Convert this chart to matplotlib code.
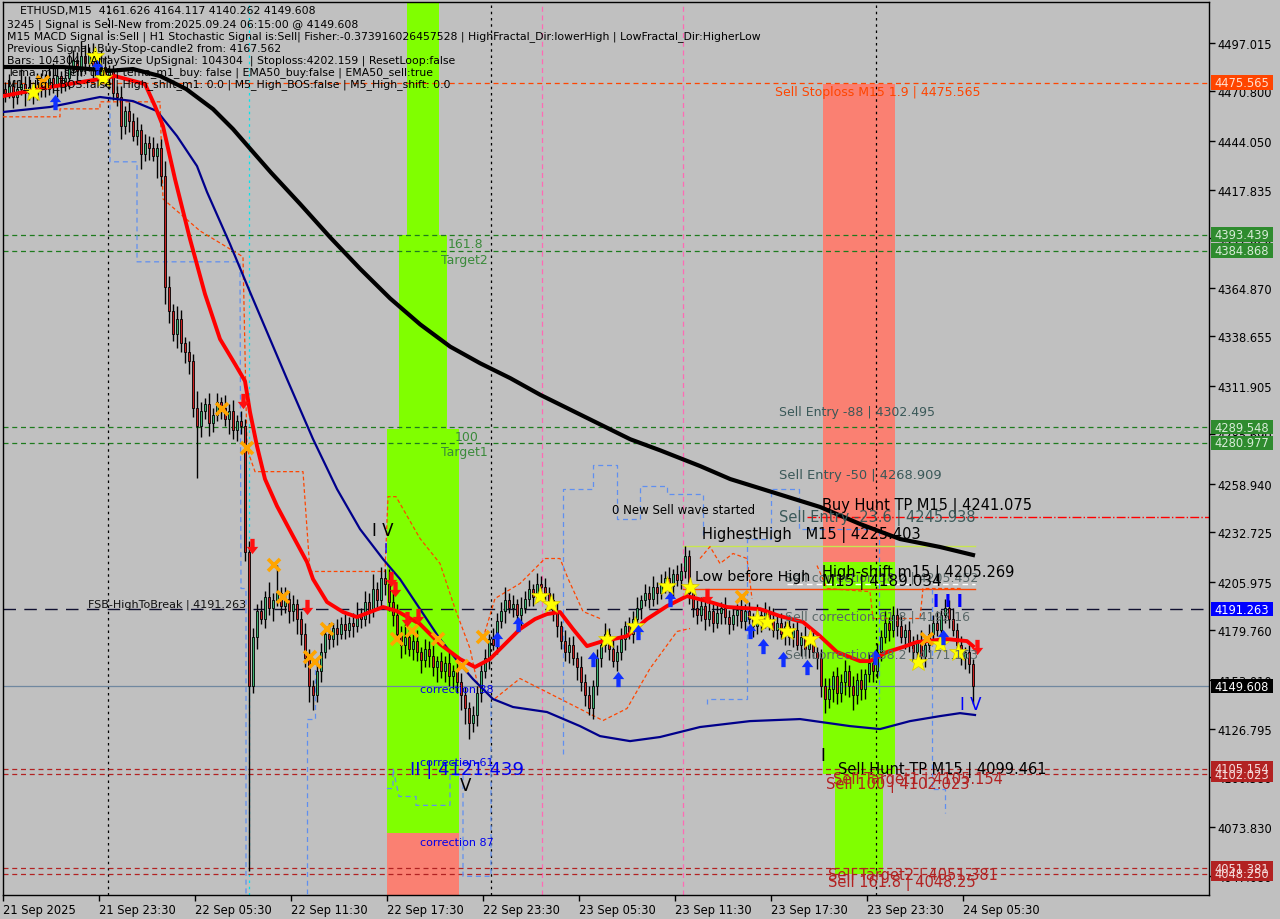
import matplotlib
matplotlib.use("Agg")
import matplotlib.pyplot as plt
import matplotlib.transforms as mtransforms
from matplotlib.patches import Rectangle
from matplotlib.path import Path
import numpy as np

plt.rcParams['font.family'] = ['DejaVu Sans']

# ---- candle data (ETHUSD M15) ----
close = [
    # 21 Sep evening
    4470, 4474, 4468, 4472, 4475, 4470, 4473, 4469, 4474,
    4476, 4472, 4478, 4475, 4479, 4474, 4478,
    4484, 4488, 4482, 4490, 4486, 4492, 4485,
    4480, 4484, 4478, 4482,
    # drop into 22 Sep
    4470, 4468, 4452, 4460, 4455, 4447, 4450, 4437, 4443, 4440,
    4436, 4440, 4425, 4365, 4352, 4340, 4348, 4335, 4330, 4325,
    4300, 4290, 4298, 4302, 4292, 4296, 4303, 4300, 4294, 4298,
    4288, 4293, 4290, 4222, 4150,
    4176, 4190, 4186, 4198, 4192, 4196, 4200, 4193, 4197, 4190,
    4194, 4186, 4178, 4165, 4150, 4145, 4158, 4168, 4178, 4175,
    4181, 4178, 4183, 4180, 4184, 4182, 4188, 4186, 4195, 4190,
    4202, 4196, 4208, 4205,
    4195, 4188, 4178, 4172, 4176, 4170, 4174, 4168, 4164, 4170,
    4166, 4160, 4163, 4158, 4162, 4155, 4158, 4152, 4145, 4138,
    4130, 4134, 4146,
    # 23 Sep
    4158, 4165, 4175, 4172, 4185, 4190, 4196, 4192, 4194, 4188,
    4192, 4197, 4202, 4198, 4205, 4203, 4200, 4196,
    4190, 4182, 4174, 4168, 4172, 4165, 4160, 4152, 4145, 4138, 4150, 4165,
    4172, 4178, 4170, 4163, 4168, 4175, 4182, 4178, 4186, 4192,
    4196, 4200, 4197, 4203, 4200, 4205, 4208, 4204, 4210, 4207,
    4212, 4220, 4200, 4192,
    4188, 4193, 4186, 4190, 4184, 4189, 4192, 4187, 4183, 4188,
    4191, 4185, 4190, 4186, 4182, 4188, 4184, 4190, 4186, 4180,
    4184, 4178, 4182, 4176, 4180, 4172, 4176, 4170, 4174, 4168, 4165,
    4150, 4143, 4148, 4155, 4146, 4152, 4158, 4150, 4145, 4153, 4148, 4156, 4162, 4158,
    4168, 4176, 4184, 4180, 4188, 4182, 4176, 4180, 4172,
    4168, 4174, 4166, 4172, 4178, 4184, 4180, 4188, 4192, 4186, 4180,
    # 24 Sep
    4172, 4165, 4168, 4161.626, 4149.608,
]
first_open = 4472

wick_up = (
    [4, 6, 3, 5, 8, 4, 6, 3, 7, 5, 4, 6, 8, 5, 3, 6, 7, 5, 4, 8, 6, 3, 5, 4, 9, 6, 3]
    + [3, 4, 6, 3, 5, 4, 7, 3, 5, 4, 6, 3, 5, 8, 6, 4, 7, 5, 3, 6, 4, 9, 5, 3, 6, 4, 5, 3, 7, 4, 6, 3, 5, 4, 6]
    + [5, 4, 6, 3, 8, 4, 15, 3, 6, 4, 5, 3, 4, 6, 5, 3, 7, 5, 4, 6, 3, 5, 4, 6, 3, 5, 7, 4, 6, 5, 8, 4, 6, 5]
    + [8, 5, 6, 4, 7, 5, 4, 6, 3, 5, 4, 6, 3, 5, 4, 6, 3, 4, 5, 4, 3, 5, 4]
    + [4, 5, 3, 6, 4, 5, 7, 4, 5, 3, 6, 4, 5, 3, 6, 4, 5, 3]
    + [4, 5, 3, 6, 4, 5, 3, 6, 4, 5, 3, 5]
    + [4, 6, 3, 5, 4, 6, 3, 5, 4, 6, 3, 5, 4, 6, 3, 5, 4, 6, 3, 5, 4, 5.4, 3, 5]
    + [4, 5, 3, 6, 4, 5, 3, 6, 4, 5, 3, 6, 4, 5, 3, 6, 4, 5, 3, 6, 4, 5, 3, 6, 4, 5, 3, 6, 4, 5, 3]
    + [5, 4, 6, 3, 5, 4, 6, 3, 5, 4, 6, 3, 5, 4]
    + [5, 4, 6, 3, 5, 4, 6, 3, 5]
    + [5, 4, 6, 3, 5, 4, 6, 3, 5, 4, 6]
    + [4, 5, 3, 4, 2.491]
)
wick_dn = (
    [5, 3, 6, 4, 3, 7, 4, 5, 3, 6, 4, 3, 5, 7, 4, 3, 6, 4, 5, 3, 6, 4, 7, 3, 5, 4, 6]
    + [4, 5, 7, 4, 6, 3, 5, 8, 4, 6, 3, 12, 5, 9, 6, 4, 8, 5, 6, 7, 5, 28, 6, 4, 7, 5, 3, 6, 4, 8, 5, 6, 4, 5, 100]
    + [4, 6, 3, 5, 4, 7, 3, 5, 4, 6, 5, 8, 6, 5, 9, 8, 4, 6, 3, 5, 4, 6, 3, 5, 4, 6, 3, 5, 4, 6, 3, 5, 4, 6]
    + [5, 6, 4, 7, 5, 4, 6, 5, 7, 4, 6, 5, 8, 4, 6, 5, 7, 6, 8, 9, 8.6, 5, 6]
    + [5, 4, 6, 3, 5, 4, 6, 3, 5, 4, 6, 3, 4, 5, 3, 6, 4, 5]
    + [5, 6, 4, 5, 6, 4, 7, 5, 6, 4, 6, 5]
    + [5, 4, 6, 3, 5, 4, 6, 3, 5, 4, 6, 3, 5, 4, 6, 3, 5, 4, 6, 3, 5, 4, 6, 5]
    + [5, 3, 6, 4, 5, 3, 6, 4, 5, 3, 6, 4, 5, 3, 6, 4, 5, 3, 6, 4, 5, 3, 6, 4, 5, 3, 6, 4, 5, 3, 6]
    + [6, 8, 5, 7, 6, 5, 7, 6, 8, 5, 6, 5, 4, 6]
    + [4, 5, 3, 6, 4, 5, 3, 6, 4]
    + [4, 5, 3, 6, 4, 5, 3, 6, 4, 5, 3]
    + [5, 4, 6, 5, 9.346]
)

# ---- moving averages (knots) ----
ema200_x = [0, 15, 27, 32.5, 39.3, 45.8, 52.5, 57.5, 62.5, 67, 74.3, 81.8, 89.3, 96.8, 104.3,
            111.8, 119.3, 126.8, 134.3, 141.8, 149.3, 156.8, 164.3, 174.3, 181.8, 204.3,
            214.3, 224.3, 234.3, 242.5]
ema200_y = [4484, 4484, 4482, 4482.9, 4479.1, 4472.1, 4461.3, 4450.5, 4438.1, 4427, 4410, 4392,
            4375, 4359, 4345, 4333, 4324, 4316, 4307, 4299, 4291, 4283, 4277, 4268.5, 4261.5,
            4246.4, 4237.2, 4229.1, 4224.8, 4220.5]

ema20_x = [0, 11.75, 24.25, 28, 35.5, 38, 40, 43, 46.75, 50.5, 54.25, 58, 60.5, 61.75, 63.5,
           65.5, 68.5, 72.5, 76, 77.5, 81, 85, 88.5, 91.75, 95, 98.5, 104.25, 109.25, 114.25,
           118, 121.75, 125.5, 129.25, 133, 136, 139.25, 142.5, 146, 149.25, 156, 161, 166,
           171, 176, 181, 189.25, 194.25, 200, 204.25, 208.5, 214.25, 216.75, 221, 225,
           228.5, 236, 241, 242.5]
ema20_y = [4468.3, 4473.2, 4477.5, 4479.1, 4474.8, 4462.9, 4452.1, 4423.5, 4391.1, 4361.4,
           4337.1, 4323.6, 4314.4, 4297.7, 4279.3, 4261.5, 4246.9, 4230.7, 4216.7, 4207.5,
           4195.1, 4189.7, 4187.0, 4189.7, 4192.4, 4190.2, 4183.2, 4172.4, 4164.3, 4160.0,
           4164.3, 4172.4, 4180.5, 4185.9, 4188.6, 4189.7, 4180.5, 4171.3, 4173.5, 4176.7,
           4185.9, 4192.9, 4198.3, 4195.6, 4192.4, 4191.3, 4187.5, 4184.3, 4176.7, 4168.1,
           4163.2, 4163.2, 4168.1, 4170.8, 4173.5, 4175.1, 4174.0, 4171.3]

ema50_x = [0, 11.75, 24.25, 32.5, 38.5, 43.5, 48.5, 51, 56.75, 61.75, 66.75, 71, 77.5, 83.5,
           89.25, 95, 99.25, 104.25, 109.25, 114.25, 117.5, 122.5, 127.5, 136, 144.25,
           149.25, 156.75, 164.25, 174.25, 186.75, 199.25, 211.75, 219.25, 226.75, 234.25,
           239.25, 243]
ema50_y = [4459.7, 4462.4, 4467.8, 4465.6, 4460.2, 4446.7, 4430.5, 4416.5, 4388.4, 4362.5,
           4337.1, 4315.5, 4283.1, 4256.1, 4234.5, 4218.3, 4207.5, 4191.3, 4175.1, 4161.6,
           4153.5, 4142.7, 4138.4, 4135.7, 4128.1, 4122.7, 4120.0, 4122.2, 4127.6, 4130.8,
           4131.9, 4128.1, 4126.5, 4130.8, 4133.5, 4135.1, 4134.1]

# trailing-stop style dashed lines (pieces)
trail_hi = [
    ([0, 14.25, 14.25, 24.25, 24.25, 39.25, 40, 49.25, 60, 61, 63, 75, 76.75, 95.5, 96.25,
      98.25, 104.25, 109.25, 113, 116.75, 118.75, 120],
     [4457.1, 4457.1, 4461.4, 4461.4, 4465.2, 4465.2, 4412.8, 4395.5, 4381.5, 4277.9,
      4265.5, 4265.5, 4211.6, 4211.6, 4252.0, 4252.0, 4229.4, 4215.9, 4191.6, 4170.0,
      4149.5, 4148.4]),
    ([120, 123, 129.25, 135.5, 139.25, 141.25, 145, 149.25],
     [4175.4, 4197.0, 4205.1, 4218.6, 4218.6, 4207.8, 4190.0, 4186.2]),
    ([174.25, 176.75, 179.25, 182.5, 186, 187.25],
     [4218.6, 4225.0, 4215.9, 4221.3, 4218.6, 4197.0]),
    ([203.5, 206, 216.75, 217.5, 229.25, 230, 240],
     [4214.8, 4202.4, 4200.7, 4186.2, 4186.2, 4202.4, 4202.4]),
]
trail_lo = [
    ([123, 129.25, 150, 156, 161.75, 168.5, 171.75],
     [4143.0, 4153.8, 4131.1, 4137.6, 4159.2, 4179.2, 4180.8]),
]
band_blue = [
    ([26.75, 26.75, 33.5, 33.5, 59.25, 59.5, 60.75, 60.75],
     [4468.4, 4432.8, 4432.8, 4378.8, 4378.8, 4202.4, 4202.4, 4037.3]),
    ([76, 76, 78, 78],
     [4037.3, 4132.2, 4132.2, 4160.0]),
    ([96, 97.5, 97.5, 99, 103.25, 103.25, 111.75, 111.75, 115, 115, 122, 122],
     [4094.4, 4094.4, 4105.2, 4090.1, 4090.1, 4085.3, 4085.3, 4101.5, 4101.5, 4047.0,
      4047.0, 4143.0]),
    ([140, 140, 147.5, 147.5, 153.5, 153.5, 159.25, 159.25, 166, 166, 175, 175],
     [4113.3, 4256.3, 4256.3, 4269.3, 4269.3, 4240.1, 4240.1, 4257.9, 4257.9, 4253.6,
      4253.6, 4229.4]),
    ([176, 176, 186, 186, 192, 192, 199, 199, 219, 219],
     [4140.3, 4143.0, 4143.0, 4229.4, 4229.4, 4256.3, 4256.3, 4234.7, 4234.7, 4143.0]),
    ([232.25, 232.25, 235.5, 235.5],
     [4202.4, 4094.4, 4094.4, 4081.0]),
]

# signal markers (bar position, price)
star_x = [7.5, 23, 25, 134.3, 137, 151, 158, 166, 171.8, 188.5, 191, 196, 201.8, 228.8, 234.3, 238.8]
star_y = [4470.5, 4489.9, 4478.0, 4198.3, 4194.0, 4175.1, 4182.1, 4203.7, 4203.2, 4185.9, 4184.3,
          4179.4, 4175.1, 4162.7, 4172.4, 4168.1]
cross_x = [10, 54.8, 61, 67.8, 70, 76.8, 78, 81, 98.5, 102.3, 108.8, 114.8, 120, 184.8, 231]
cross_y = [4475.9, 4299.3, 4278.2, 4215.1, 4197.8, 4165.4, 4162.7, 4180.5, 4175.1, 4179.4,
           4175.1, 4160.5, 4176.2, 4197.8, 4175.1]
up_x = [13, 23.5, 123.5, 128.8, 147.5, 153.8, 158.8, 166.8, 186.8, 190, 195, 201, 218, 235]
up_y = [4465.1, 4484.0, 4175.1, 4183.2, 4164.3, 4153.5, 4178.9, 4196.7, 4179.4, 4171.3,
        4164.3, 4160.0, 4165.4, 4176.2]
dn_x = [60, 62.3, 76, 97, 98, 101, 103.8, 176, 243.5]
dn_y = [4303.6, 4225.3, 4192.4, 4207.5, 4202.1, 4185.9, 4187.5, 4198.3, 4170.8]

# axis labels
price_ticks = [4497.015, 4470.800, 4444.050, 4417.835, 4391.620, 4364.870, 4338.655, 4311.905,
               4285.690, 4258.940, 4232.725, 4205.975, 4179.760, 4153.010, 4126.795, 4100.580,
               4073.830, 4047.080]
time_labels = ["21 Sep 2025", "21 Sep 23:30", "22 Sep 05:30", "22 Sep 11:30", "22 Sep 17:30",
               "22 Sep 23:30", "23 Sep 05:30", "23 Sep 11:30", "23 Sep 17:30", "23 Sep 23:30",
               "24 Sep 05:30"]
bars_per_label = 24

info_lines = [
    "3245 | Signal is Sell-New from:2025.09.24 06:15:00 @ 4149.608",
    "M15 MACD Signal is:Sell | H1 Stochastic Signal is:Sell| Fisher:-0.373916026457528 | HighFractal_Dir:lowerHigh | LowFractal_Dir:HigherLow",
    "Previous Signal :Buy-Stop-candle2 from: 4167.562",
    "Bars: 104304 | ArraySize UpSignal: 104304  | Stoploss:4202.159 | ResetLoop:false",
    "Tema_m1_sell: true | tema_m1_buy: false | EMA50_buy:false | EMA50_sell:true",
    "M1_High_BOS:false | High_shift_m1: 0.0 | M5_High_BOS:false | M5_High_shift: 0.0",
]

BG = '#C0C0C0'
LIME = '#80FF00'
SALMON = '#FA8072'
GREEN = '#2E8B2E'
FIRE = '#B22222'
ORANGE = '#FF4500'

fig = plt.figure(figsize=(12.8, 9.2), dpi=100, facecolor=BG)
ax = fig.add_axes([3 / 1280, 24 / 920, 1206 / 1280, 893 / 920])
ax.set_facecolor(BG)
ax.set_xlim(0, 301.5)
ax.set_ylim(4036.9, 4519.1)

# zones
ax.add_patch(Rectangle((101, 4393.4), 8, 130, fc=LIME, ec='none', zorder=1))
ax.add_patch(Rectangle((99, 4288.7), 12, 104.7, fc=LIME, ec='none', zorder=1))
ax.add_patch(Rectangle((96, 4070.2), 18, 218.5, fc=LIME, ec='none', zorder=1))
ax.add_patch(Rectangle((96, 4030), 18, 40.2, fc=SALMON, ec='none', zorder=1))
ax.add_patch(Rectangle((205, 4216.8), 18, 258.1, fc=SALMON, ec='none', zorder=1))
ax.add_patch(Rectangle((205, 4102.5), 18, 114.3, fc=LIME, ec='none', zorder=1))
ax.add_patch(Rectangle((208, 4048), 12, 54.5, fc=LIME, ec='none', zorder=1))

# vertical separators
for u in [26.25, 122, 218.25]:
    ax.axvline(u, color='black', lw=0.9, ls=(0, (2, 3)), zorder=2)
for u in [134.75, 170]:
    ax.axvline(u, color='#FF69B4', lw=0.9, ls=(0, (4, 3)), zorder=2)
ax.axvline(61.5, color='#00E5EE', lw=0.9, ls=(0, (2, 3)), zorder=2)

# horizontal levels
dash = (0, (4, 3))
ax.axhline(4475.565, color=ORANGE, lw=0.9, ls=dash, zorder=2)
for lv in [4393.439, 4384.868, 4289.548, 4280.977]:
    ax.axhline(lv, color='#1E7B1E', lw=0.9, ls=dash, zorder=2)
for lv in [4105.154, 4102.023, 4051.381, 4048.250]:
    ax.axhline(lv, color=FIRE, lw=0.9, ls=dash, zorder=2)
ax.axhline(4191.263, color='#101030', lw=1.0, ls=(0, (9, 6)), zorder=2)
ax.axhline(4149.608, color='#7088A0', lw=0.9, zorder=2)
ax.plot([201, 301.5], [4241.075, 4241.075], color='#FF0000', lw=1.0, ls='-.', zorder=2)
ax.plot([170, 243], [4225.403, 4225.403], color='#C8E650', lw=1.0, zorder=2)
ax.plot([170, 243], [4202.159, 4202.159], color=ORANGE, lw=1.0, zorder=2)
ax.plot([196, 243], [4205.0, 4205.0], color='white', lw=1.0, ls=dash, zorder=2)

# trailing stop / channel pieces
for px, py in trail_hi + trail_lo:
    ax.plot(px, py, color=ORANGE, lw=0.9, ls=(0, (3, 2)), zorder=3)
for px, py in band_blue:
    ax.plot(px, py, color='#5F8FF0', lw=0.9, ls=(0, (4, 3)), zorder=3)

# candles
close_a = np.array(close, dtype=float)
open_a = np.concatenate([[first_open], close_a[:-1]])
high_a = np.maximum(open_a, close_a) + np.array(wick_up, dtype=float)
low_a = np.minimum(open_a, close_a) - np.array(wick_dn, dtype=float)
xs = np.arange(len(close_a)) + 0.5
bull = close_a >= open_a
ax.vlines(xs, low_a, high_a, color='black', lw=1.0, zorder=4)
body = np.maximum(np.abs(close_a - open_a), 0.6)
ax.bar(xs[bull], body[bull], bottom=open_a[bull], width=0.72, color='#3CB371',
       edgecolor='black', lw=0.6, zorder=5)
ax.bar(xs[~bull], body[~bull], bottom=close_a[~bull], width=0.72, color='#CC2020',
       edgecolor='black', lw=0.6, zorder=5)

# moving averages
ax.plot(ema50_x, ema50_y, color='#00008B', lw=1.6, zorder=6)
ax.plot(ema200_x, ema200_y, color='black', lw=3.0, zorder=6)
ax.plot(ema20_x, ema20_y, color='#FF0000', lw=2.8, zorder=6)

# markers
up_arrow = Path([(0, 1), (-0.75, 0.05), (-0.28, 0.05), (-0.28, -1), (0.28, -1), (0.28, 0.05),
                 (0.75, 0.05), (0, 1)], closed=True)
dn_arrow = Path([(0, -1), (-0.75, -0.05), (-0.28, -0.05), (-0.28, 1), (0.28, 1), (0.28, -0.05),
                 (0.75, -0.05), (0, -1)], closed=True)
ax.plot(star_x, star_y, ls='none', marker='*', ms=14, color='#FFFF00', mec='#D8C800', mew=0.5, zorder=7)
ax.plot(cross_x, cross_y, ls='none', marker='x', ms=8, color='#FFA500', mew=2.6, zorder=7)
ax.plot(up_x, up_y, ls='none', marker=up_arrow, ms=11, color='#1030FF', mew=0, zorder=7)
ax.plot(dn_x, dn_y, ls='none', marker=dn_arrow, ms=11, color='#FF1010', mew=0, zorder=7)

# chart texts
def lab(u, p, s, c='black', fs=10.5, **kw):
    ax.text(u, p, s, color=c, fontsize=fs, ha='left', va='center', zorder=8, **kw)

SLATE = '#3A5858'
lab(193, 4470.6, "Sell Stoploss M15 1.9 | 4475.565", ORANGE, 9)
lab(111.25, 4388.5, "161.8", '#3A8A3A', 9)
lab(109.5, 4379.9, "Target2", '#3A8A3A', 9)
lab(113, 4284.4, "100", '#3A8A3A', 9)
lab(109.5, 4276.3, "Target1", '#3A8A3A', 9)
lab(194, 4297.9, "Sell Entry -88 | 4302.495", SLATE, 9)
lab(194, 4263.9, "Sell Entry -50 | 4268.909", SLATE, 9.4)
lab(204.75, 4247.7, "Buy Hunt TP M15 | 4241.075", 'black', 10.5)
lab(194, 4241.2, "Sell Entry -23.6 | 4245.938", SLATE, 10.5)
lab(152.25, 4245.0, "0 New Sell wave started", 'black', 8.5)
lab(174.75, 4232.1, "HighestHigh   M15 | 4225.403", 'black', 10.5)
lab(195.5, 4208.5, "Sell correction 38.2 | 4205.452", '#5A6868', 9)
lab(173, 4208.9, "Low before High", 'black', 10.3)
lab(204.75, 4211.5, "High-shift m15 | 4205.269", 'black', 10.5)
lab(204.75, 4206.2, "M15 | 4189.034", 'black', 11)
lab(21.25, 4194.3, "FSB-HighToBreak | 4191.263", '#101010', 8)
lab(195.5, 4187.8, "Sell correction 61.8 | 4192.16", '#5A6868', 9)
lab(195.5, 4167.3, "Sell correction 38.2 | 4171.163", '#5A6868', 9)
lab(92.25, 4234.2, "I V", 'black', 12)
lab(95.25, 4224.5, "I", '#0000FF', 10)
lab(101.75, 4104.7, "II | 4121.439", '#0000EE', 13)
lab(114.25, 4096.1, "V", 'black', 12)
lab(104.25, 4148.4, "correction 38", '#0000EE', 8)
lab(104.25, 4108.5, "correction 61", '#0000EE', 8)
lab(104.25, 4065.3, "correction 87", '#0000EE', 8)
lab(208.75, 4105.2, "Sell Hunt TP M15 | 4099.461", 'black', 10.5)
lab(207.5, 4099.8, "Sell Target1 | 4105.154", FIRE, 10.5)
lab(205.75, 4096.6, "Sell 100 | 4102.023", FIRE, 10.5)
lab(206.25, 4047.5, "Sell Target2 | 4051.381", FIRE, 10.5)
lab(206.25, 4043.7, "Sell 161.8 | 4048.25", FIRE, 10.5)
lab(232.5, 4195.4, "I I I", '#0000FF', 12, fontweight='bold')
lab(239.25, 4139.8, "I V", '#0000FF', 12)
lab(204.25, 4112.3, "I", 'black', 12)

# info block
fig.text(20 / 1280, 1 - 11 / 920, "ETHUSD,M15  4161.626 4164.117 4140.262 4149.608",
         fontsize=7.8, va='center', ha='left', color='black')
for k, line in enumerate(info_lines):
    fig.text(7 / 1280, 1 - (25 + 12 * k) / 920, line, fontsize=7.8, va='center', ha='left',
             color='black')

# axes styling
ax.yaxis.tick_right()
ax.set_yticks(price_ticks)
ax.set_yticklabels(["%.3f" % v for v in price_ticks])
ax.set_xticks([i * bars_per_label for i in range(len(time_labels))])
ax.set_xticklabels(time_labels, ha='left')
ax.tick_params(axis='both', labelsize=8.3, length=4, width=1, color='black', labelcolor='black',
               direction='out')
ax.tick_params(axis='y', pad=2)
ax.tick_params(axis='x', pad=2)
for s in ax.spines.values():
    s.set_color('black')
    s.set_linewidth(1.0)

# right-axis price boxes
tr = mtransforms.blended_transform_factory(ax.transAxes, ax.transData)
boxes = [
    (4475.565, ORANGE, '#FFE0D0'),
    (4393.439, GREEN, '#D8ECD8'),
    (4384.868, GREEN, '#D8ECD8'),
    (4289.548, GREEN, '#D8ECD8'),
    (4280.977, GREEN, '#D8ECD8'),
    (4191.263, '#0000FF', 'white'),
    (4149.608, 'black', 'white'),
    (4102.023, FIRE, '#F4DADA'),
    (4105.154, FIRE, '#F4DADA'),
    (4051.381, FIRE, '#F4DADA'),
    (4048.250, FIRE, '#F4DADA'),
]
for val, bg, fg in boxes:
    ax.add_patch(Rectangle((1.0017, val - 3.9), 0.0514, 7.8, transform=tr, fc=bg, ec='none',
                           clip_on=False, zorder=20))
    ax.text(1.0045, val, "%.3f" % val, transform=tr, color=fg, fontsize=8.3, ha='left',
            va='center', clip_on=False, zorder=21)

fig.savefig("out.png", dpi=100, facecolor=BG)
